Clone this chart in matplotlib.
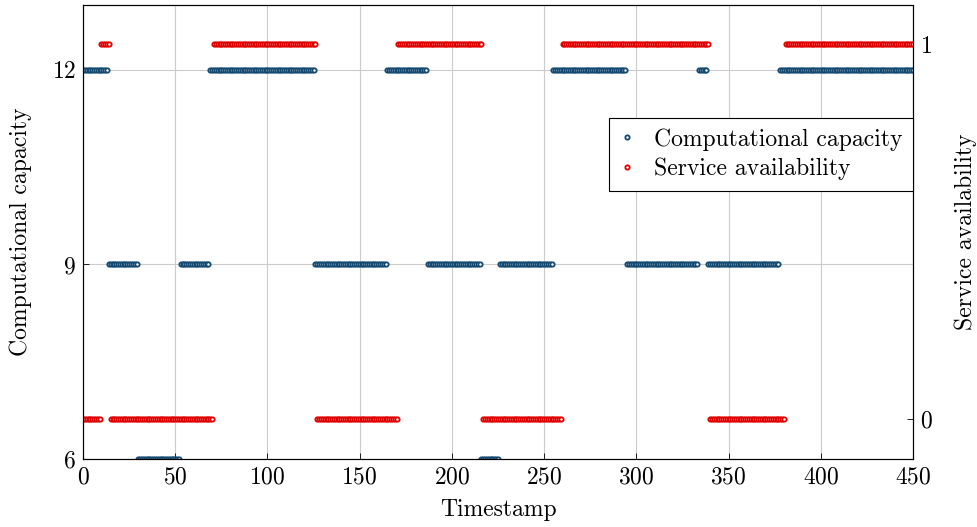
import numpy as np
import matplotlib
matplotlib.use('Agg')
import matplotlib.pyplot as plt

# Run-length data: value held up to (and including) the end timestamp
cap_values = [12, 9, 6, 9, 12, 9, 12, 9, 6, 9, 12, 9, 12, 9, 12]
cap_ends = [13, 29, 52, 68, 125, 164, 186, 215, 225, 254, 294, 333, 338, 377, 450]

avail_values = [0, 1, 0, 1, 0, 1, 0, 1, 0, 1]
avail_ends = [9, 14, 70, 126, 170, 216, 259, 339, 380, 450]

x_ticks = [0, 50, 100, 150, 200, 250, 300, 350, 400, 450]
cap_ticks = [6, 9, 12]
avail_ticks = [0, 1]

BLUE = '#144a72'
RED = '#e00000'


def expand(values, ends):
    """Turn (value, end) runs into one value per integer timestamp."""
    lengths = np.diff([-1] + ends)
    return np.arange(ends[-1] + 1), np.repeat(values, lengths)


plt.rcParams['font.family'] = ['cmr10', 'DejaVu Serif']
plt.rcParams['axes.formatter.use_mathtext'] = True
plt.rcParams['font.size'] = 17

fig = plt.figure(figsize=(9.77, 5.27), dpi=100)
ax = fig.add_axes([0.085, 0.129, 0.8495, 0.8615])
ax2 = ax.twinx()

t, cap = expand(cap_values, cap_ends)
t2, avail = expand(avail_values, avail_ends)

h1, = ax.plot(t, cap, linestyle='none', marker='o', ms=3.1, mew=1.3,
              mec=BLUE, mfc='white', label='Computational capacity')
h2, = ax2.plot(t2, avail, linestyle='none', marker='o', ms=3.1, mew=1.3,
               mec=RED, mfc='white', label='Service availability')

ax.set_xlim(0, 450)
ax.set_ylim(6, 13)
ax2.set_ylim(-0.107, 1.104)
ax.set_xticks(x_ticks)
ax.set_yticks(cap_ticks)
ax2.set_yticks(avail_ticks)

ax.grid(True, color='#cccccc', linewidth=0.8)
ax.set_axisbelow(True)
for a in (ax, ax2):
    a.tick_params(direction='in', length=4, width=0.6, labelsize=17, pad=5)
    for s in a.spines.values():
        s.set_linewidth(0.8)

ax.set_xlabel('Timestamp', labelpad=8)
ax.set_ylabel('Computational capacity', labelpad=14)
ax2.set_ylabel('Service availability', labelpad=16)

leg = ax2.legend(handles=[h1, h2], loc='upper right', bbox_to_anchor=(1.0, 0.752),
                 numpoints=1, handlelength=0.6, handletextpad=0.85, fancybox=False,
                 edgecolor='black', framealpha=1, borderpad=0.45, labelspacing=0.3,
                 borderaxespad=0, fontsize=17)
leg.get_frame().set_linewidth(0.8)

fig.savefig('out.png', dpi=100)
